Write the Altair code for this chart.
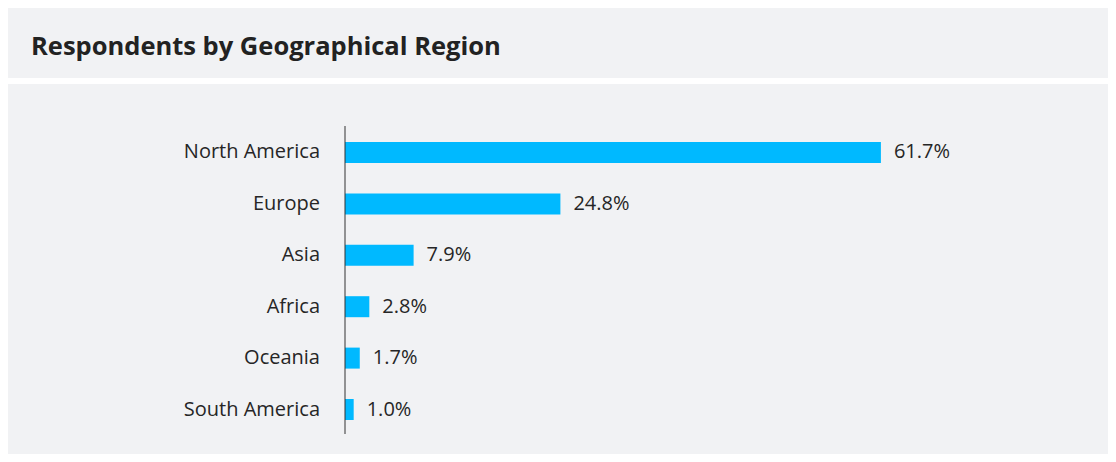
import altair as alt
import pandas as pd

title_text = "Respondents by Geographical Region"
regions = ["North America", "Europe", "Asia", "Africa", "Oceania", "South America"]
values = [61.7, 24.8, 7.9, 2.8, 1.7, 1.0]
value_labels = ["61.7%", "24.8%", "7.9%", "2.8%", "1.7%", "1.0%"]

df = pd.DataFrame({"region": regions, "value": values, "label": value_labels,
                   "zero": [0] * len(regions)})
one = pd.DataFrame({"t": [title_text], "zero": [0]})

W, H = 1100, 446
PANEL = "#F1F2F4"
BAR = "#00B9FF"
TXT = "#262626"
FONT = "Open Sans"

xscale = alt.Scale(domain=[0, 70], range=[337, 945])
yscale = alt.Scale(domain=regions, range=[119, 427], paddingInner=0.5914, paddingOuter=0.2917)

bg_title = alt.Chart(one).mark_rect(color=PANEL).encode(
    x=alt.value(0), x2=alt.value(W), y=alt.value(0), y2=alt.value(70))
bg_chart = alt.Chart(one).mark_rect(color=PANEL).encode(
    x=alt.value(0), x2=alt.value(W), y=alt.value(76), y2=alt.value(H))

title = alt.Chart(one).mark_text(
    font=FONT, fontSize=25.5, fontWeight="bold", color="#222222",
    align="left", baseline="alphabetic").encode(
    x=alt.value(23), y=alt.value(46.5), text="t:N")

bars = alt.Chart(df).mark_bar(color=BAR).encode(
    x=alt.X("value:Q", scale=xscale, axis=None),
    y=alt.Y("region:N", scale=yscale, axis=None, sort=regions),
)

axis_rule = alt.Chart(one).mark_rule(color="#333333", strokeWidth=1).encode(
    x=alt.X("zero:Q", scale=xscale, axis=None), y=alt.value(118), y2=alt.value(426))

cat_labels = alt.Chart(df).mark_text(
    font=FONT, fontSize=20, color=TXT, align="right", baseline="middle", dx=-25).encode(
    x=alt.X("zero:Q", scale=xscale, axis=None),
    y=alt.Y("region:N", scale=yscale, axis=None, sort=regions),
    text="region:N")

val_labels = alt.Chart(df).mark_text(
    font=FONT, fontSize=20, color=TXT, align="left", baseline="middle", dx=13).encode(
    x=alt.X("value:Q", scale=xscale, axis=None),
    y=alt.Y("region:N", scale=yscale, axis=None, sort=regions),
    text="label:N")

chart = alt.layer(bg_title, bg_chart, title, bars, axis_rule, cat_labels, val_labels).properties(
    width=W, height=H,
    autosize=alt.AutoSizeParams(type="none"),
    padding=0,
    background="white",
).configure_view(stroke=None)

chart.save("out.html", embed_options={"renderer": "svg", "actions": False})
